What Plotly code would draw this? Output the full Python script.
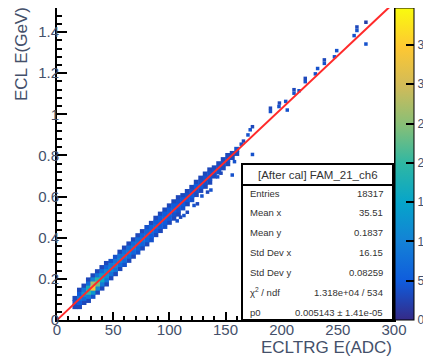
import plotly.graph_objects as go

# ---------------- data ----------------
# 2D histogram band: column centre (ADC), lowest cell centre (GeV), counts upward (cell height 0.02 GeV)
band_x = [16, 20, 24, 28, 32, 36, 40, 44, 48, 52, 56, 60, 64, 68, 72, 76, 80, 84, 88,
          92, 96, 100, 104, 108, 112, 116, 120, 124, 128, 132, 136, 140, 144, 148, 152, 156, 160]
band_ylo = [0.065, 0.065, 0.085, 0.095, 0.115, 0.135, 0.155, 0.175, 0.205, 0.225, 0.25, 0.27,
            0.29, 0.31, 0.33, 0.35, 0.37, 0.39, 0.415, 0.435, 0.455, 0.475, 0.495, 0.515,
            0.545, 0.565, 0.585, 0.61, 0.63, 0.65, 0.67, 0.70, 0.72, 0.74, 0.76, 0.79, 0.81]
band_counts = [
    [3, 4, 3], [3, 5, 8, 5, 3], [3, 7, 12, 8, 3],
    [3, 9, 20, 17, 7, 3], [4, 13, 34, 27, 10, 3], [3, 11, 24, 19, 8, 3],
    [3, 9, 16, 14, 7, 3], [3, 8, 12, 11, 6, 3],
    [3, 8, 11, 9, 4], [3, 8, 10, 8, 4], [3, 7, 10, 8, 3], [4, 7, 9, 7, 3], [3, 7, 9, 7, 3],
    [3, 6, 9, 7, 3], [4, 6, 8, 7, 3], [3, 6, 8, 6, 3], [3, 6, 7, 6, 4], [4, 5, 7, 6, 3],
    [3, 5, 7, 5, 3], [3, 5, 6, 5, 3], [4, 5, 6, 5, 3], [3, 5, 6, 5, 3], [3, 4, 6, 5, 3],
    [3, 4, 5, 4, 3],
    [4, 5, 5, 3], [3, 5, 4, 3], [4, 5, 4, 3], [3, 4, 5, 3], [3, 5, 4, 3], [3, 4, 4, 3], [3, 4, 4, 3],
    [3, 4, 3], [4, 4, 3], [3, 4, 3], [3, 4, 3],
    [3, 3], [3, 4],
]
cell_dy = 0.02

# sparse entries away from the band
sparse_x = [107, 110, 113, 116, 122, 125, 129, 134, 137, 143, 146, 158, 156,
            164, 166, 170, 172, 174, 174,
            190, 190, 197.6, 198, 205, 203.6, 211, 211, 215.5, 221, 221, 230, 232,
            238, 238, 247, 249, 264.5, 267, 267, 275, 275]
sparse_y = [0.482, 0.50, 0.508, 0.524, 0.557, 0.565, 0.603, 0.622, 0.632, 0.696, 0.714, 0.77, 0.705,
            0.855, 0.87, 0.90, 0.925, 0.94, 0.805,
            1.014, 1.03, 1.038, 1.055, 1.021, 1.063, 1.103, 1.12, 1.115, 1.159, 1.175, 1.197, 1.223,
            1.248, 1.265, 1.28, 1.31, 1.383, 1.408, 1.425, 1.342, 1.448]
sparse_c = [4, 3, 4, 3, 4, 3, 4, 3, 4, 4, 3, 4, 4,
            4, 3, 4, 4, 3, 4,
            4, 3, 4, 3, 4, 4, 4, 3, 4, 4, 3, 4, 4,
            4, 3, 4, 4, 4, 4, 3, 4, 2]

fit_p0 = 0.005143
fit_x = [0, 300]

x_ticks = [0, 50, 100, 150, 200, 250, 300]
y_ticks = [0, 0.2, 0.4, 0.6, 0.8, 1, 1.2, 1.4]
z_ticks = [0, 5, 10, 15, 20, 25, 30, 35]
z_max = 39.7

stats_title = "[After cal] FAM_21_ch6"
stats_labels = ["Entries", "Mean x", "Mean y", "Std Dev x", "Std Dev y", "χ<sup>2</sup> / ndf", "p0"]
stats_values = ["18317", "35.51", "0.1837", "16.15", "0.08259", "1.318e+04 / 534", "0.005143 ± 1.41e-05"]

# ---------------- expand histogram cells ----------------
cells = []
for cx, ylo, cnts in zip(band_x, band_ylo, band_counts):
    for k, c in enumerate(cnts):
        cells.append((cx, ylo + k * cell_dy, c))
cells.sort(key=lambda t: t[2])
cx_list = [c[0] for c in cells]
cy_list = [c[1] for c in cells]
cc_list = [c[2] for c in cells]

# ROOT kBird palette
stops = [0, .125, .25, .375, .5, .625, .75, .875, 1]
rr = [0.2082, 0.0592, 0.0780, 0.0232, 0.1802, 0.5301, 0.8186, 0.9956, 0.9764]
gg = [0.1664, 0.3599, 0.5041, 0.6419, 0.7178, 0.7492, 0.7328, 0.7862, 0.9832]
bb = [0.5293, 0.8684, 0.8385, 0.7914, 0.6425, 0.4662, 0.3499, 0.1968, 0.0539]
bird = [[s, "rgb(%d,%d,%d)" % (round(r * 255), round(g * 255), round(b * 255))]
        for s, r, g, b in zip(stops, rr, gg, bb)]

FONT = "Liberation Sans, Arial, Helvetica, sans-serif"
TXT = "#44506a"

fig = go.Figure()
fig.add_trace(go.Scatter(
    x=cx_list, y=cy_list, mode="markers",
    marker=dict(symbol="square", size=5, color=cc_list, coloraxis="coloraxis", line=dict(width=0)),
    hoverinfo="skip", showlegend=False))
fig.add_trace(go.Scatter(
    x=sparse_x, y=sparse_y, mode="markers",
    marker=dict(symbol="square", size=3.5, color=sparse_c, coloraxis="coloraxis", line=dict(width=0)),
    hoverinfo="skip", showlegend=False))
fig.add_trace(go.Scatter(
    x=fit_x, y=[fit_p0 * v for v in fit_x], mode="lines",
    line=dict(color="#ff2a2a", width=2), hoverinfo="skip", showlegend=False))

# page offset of the figure inside the html body (default body margin)
OFF = 8
W, H = 431, 358
# plot-area edges in page pixels
P_LEFT, P_RIGHT, P_TOP, P_BOT = 57, 394, OFF, 320
L, R, T, B = P_LEFT - OFF, W - (P_RIGHT - OFF), P_TOP - OFF, H - (P_BOT - OFF)
pw, ph = W - L - R, H - T - B
y_max = 1.527 * ph / 314.0


def px2x(px):  # page x -> paper x
    return (px - P_LEFT) / pw


def py2y(py):  # page y -> paper y
    return (P_BOT - py) / ph


fig.update_layout(
    width=W, height=H,
    margin=dict(l=L, r=R, t=T, b=B, autoexpand=False),
    paper_bgcolor="white", plot_bgcolor="white",
    font=dict(family=FONT, color=TXT, size=15),
    coloraxis=dict(
        colorscale=bird, cmin=0, cmax=z_max * ph / 314.0 if False else z_max,
        colorbar=dict(
            x=px2x(395), xanchor="left", xpad=0, ypad=0, y=0, yanchor="bottom",
            len=1, lenmode="fraction", thickness=19,
            outlinewidth=1, outlinecolor="black",
            tickmode="array", tickvals=z_ticks, ticktext=[str(v) for v in z_ticks],
            ticks="inside", ticklen=8, tickcolor="black", tickwidth=1.5,
            tickfont=dict(family=FONT, size=12, color=TXT),
        ),
    ),
    xaxis=dict(
        range=[0, 300], tickmode="array", tickvals=x_ticks,
        ticks="inside", ticklen=8, tickwidth=1.5, tickcolor="black",
        minor=dict(dtick=10, ticks="inside", ticklen=4, tickcolor="black", tickwidth=1.5, showgrid=False),
        showline=True, linecolor="black", linewidth=2, mirror=True,
        showgrid=False, zeroline=False, automargin=False, ticklabelstandoff=-5,
        tickfont=dict(family=FONT, size=15, color=TXT),
    ),
    yaxis=dict(
        range=[0, y_max], tickmode="array", tickvals=y_ticks,
        ticktext=["0", "0.2", "0.4", "0.6", "0.8", "1", "1.2", "1.4"],
        ticks="inside", ticklen=10, tickwidth=1.5, tickcolor="black",
        minor=dict(dtick=0.04, ticks="inside", ticklen=5, tickcolor="black", tickwidth=1.5, showgrid=False),
        showline=True, linecolor="black", linewidth=2, mirror=True,
        showgrid=False, zeroline=False, automargin=False, ticklabelstandoff=-7,
        tickfont=dict(family=FONT, size=15, color=TXT),
    ),
)

# axis titles
fig.add_annotation(text="ECL E(GeV)", xref="paper", yref="paper",
                   x=px2x(21), y=py2y(5), xanchor="center", yanchor="top",
                   textangle=-90, showarrow=False,
                   font=dict(family=FONT, size=17, color=TXT))
fig.add_annotation(text="ECLTRG E(ADC)", xref="paper", yref="paper",
                   x=px2x(394), y=py2y(347), xanchor="right", yanchor="middle",
                   showarrow=False, font=dict(family=FONT, size=17, color=TXT))

# stats box
bx0, bx1, by_top, by_mid, by_bot = 242, 393, 164, 185, 320
fig.add_shape(type="rect", xref="paper", yref="paper", layer="above",
              x0=px2x(bx0), x1=px2x(bx1), y0=py2y(by_bot), y1=py2y(by_top),
              fillcolor="white", line=dict(color="black", width=2))
fig.add_shape(type="line", xref="paper", yref="paper", layer="above",
              x0=px2x(bx0), x1=px2x(bx1), y0=py2y(by_mid), y1=py2y(by_mid),
              line=dict(color="black", width=2))
fig.add_annotation(text=stats_title, xref="paper", yref="paper",
                   x=px2x((bx0 + bx1) / 2), y=py2y(175), xanchor="center", yanchor="middle",
                   showarrow=False, font=dict(family=FONT, size=11.5, color="#333333"))
row_py = [193, 212, 232, 252, 272, 292, 312]
for lab, val, rp in zip(stats_labels, stats_values, row_py):
    fig.add_annotation(text=lab, xref="paper", yref="paper", x=px2x(248), y=py2y(rp),
                       xanchor="left", yanchor="middle", showarrow=False,
                       font=dict(family=FONT, size=9.5, color="#333333"))
    fig.add_annotation(text=val, xref="paper", yref="paper", x=px2x(385), y=py2y(rp),
                       xanchor="right", yanchor="middle", showarrow=False,
                       font=dict(family=FONT, size=9.5, color="#333333"))

fig.write_html("out.html")
